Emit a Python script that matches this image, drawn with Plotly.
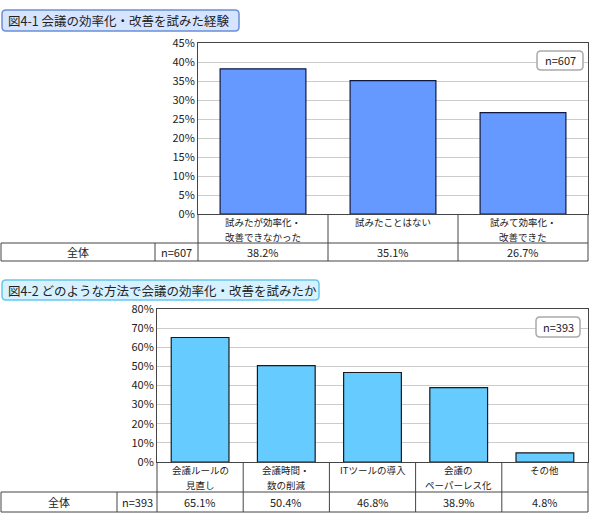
import plotly.graph_objects as go

W, H = 590, 523

# chart 4-1
cats1 = ["試みたが効率化・<br>改善できなかった", "試みたことはない", "試みて効率化・<br>改善できた"]
vals1 = [38.2, 35.1, 26.7]
n1 = "n=607"
title1 = "図4-1 会議の効率化・改善を試みた経験"

# chart 4-2
cats2 = ["会議ルールの<br>見直し", "会議時間・<br>数の削減", "ITツールの導入", "会議の<br>ペーパーレス化", "その他"]
vals2 = [65.1, 50.4, 46.8, 38.9, 4.8]
n2 = "n=393"
title2 = "図4-2 どのような方法で会議の効率化・改善を試みたか"

row_label = "全体"
FONT = "Noto Sans CJK JP"
LINE = "#444444"


def px(x):
    return x / W


def py(y):
    return 1 - y / H


def rounded_box(x0, y0, x1, y1, r, fill, line):
    rx, ry = r / W, r / H
    a, b, c, d = px(x0), py(y0), px(x1), py(y1)
    path = (f"M {a+rx},{b} L {c-rx},{b} Q {c},{b} {c},{b-ry} "
            f"L {c},{d+ry} Q {c},{d} {c-rx},{d} L {a+rx},{d} "
            f"Q {a},{d} {a},{d+ry} L {a},{b-ry} Q {a},{b} {a+rx},{b} Z")
    return dict(type="path", path=path, xref="paper", yref="paper",
                fillcolor=fill, line=dict(color=line, width=1.5), layer="above")


def label(x, y, text, xref="paper", size=11, xanchor="center", yanchor="middle"):
    return dict(x=x, y=y, xref=xref, yref="paper", text=text, showarrow=False,
                xanchor=xanchor, yanchor=yanchor, borderpad=0, font=dict(size=size))


fig = go.Figure()
fig.add_trace(go.Bar(x=cats1, y=vals1, width=0.66, xaxis="x", yaxis="y",
                     marker=dict(color="#6699FF", line=dict(color="#101840", width=1.2)),
                     hoverinfo="skip"))
fig.add_trace(go.Bar(x=cats2, y=vals2, width=0.67, xaxis="x2", yaxis="y2",
                     marker=dict(color="#66CCFF", line=dict(color="#1a1a1a", width=1.2)),
                     hoverinfo="skip"))

shapes = []
annotations = []


def add_table(cats, vals, nlabel, xref, left, cell1, right, top, mid, bottom):
    for y in (mid, bottom):
        shapes.append(dict(type="line", xref="paper", yref="paper", x0=px(1), x1=px(right),
                           y0=py(y), y1=py(y), line=dict(color=LINE, width=1)))
    for x, yt in ((1, mid), (cell1, mid), (left, top), (right, top)):
        shapes.append(dict(type="line", xref="paper", yref="paper", x0=px(x), x1=px(x),
                           y0=py(yt), y1=py(bottom), line=dict(color=LINE, width=1)))
    for i in range(len(cats) - 1):
        shapes.append(dict(type="line", xref=xref, yref="paper", x0=i + 0.5, x1=i + 0.5,
                           y0=py(top), y1=py(bottom), line=dict(color=LINE, width=1)))
    ym = py((mid + bottom) / 2)
    annotations.append(label(px((1 + cell1) / 2), ym, row_label))
    annotations.append(label(px((cell1 + left) / 2), ym, nlabel))
    for c, v in zip(cats, vals):
        # one annotation per line so the two lines keep a clear gap
        for k, part in enumerate(c.split("<br>")):
            annotations.append(label(c, py(top + 7.5 + 15 * k), part, xref=xref, size=9.5))
        annotations.append(label(c, ym, f"{v:.1f}%", xref=xref))


add_table(cats1, vals1, n1, "x", 198, 155, 588, 214, 243, 261)
add_table(cats2, vals2, n2, "x2", 157, 117, 588, 462, 492, 512)

# title boxes
shapes.append(rounded_box(2, 10, 239, 31, 4, "#D6E4FF", "#6A8FD8"))
annotations.append(label(px(7), py(20.5), title1, size=12.5, xanchor="left"))
shapes.append(rounded_box(2, 280, 319, 300, 4, "#D6F1FF", "#66C6EE"))
annotations.append(label(px(7), py(290), title2, size=12.5, xanchor="left"))

# n boxes
shapes.append(rounded_box(537, 51, 583, 70, 4, "white", "#AAAAAA"))
annotations.append(label(px(560), py(60.5), n1))
shapes.append(rounded_box(536, 317, 580, 337, 4, "white", "#AAAAAA"))
annotations.append(label(px(558), py(327), n2))

axis_common = dict(showline=True, mirror=True, linecolor=LINE, linewidth=1, fixedrange=True)

fig.update_layout(
    width=W, height=H,
    margin=dict(l=0, r=0, t=0, b=0, autoexpand=False),
    paper_bgcolor="white", plot_bgcolor="white",
    showlegend=False,
    font=dict(family=FONT, size=11, color="#222222"),
    xaxis=dict(domain=[px(198), px(588)], anchor="y", range=[-0.5, 2.5],
               showticklabels=False, ticks="", showgrid=False, **axis_common),
    yaxis=dict(domain=[py(214), py(43)], anchor="x", range=[0, 45], dtick=5,
               ticksuffix="%", showgrid=True, gridcolor="#CCCCCC", ticks="",
               tickfont=dict(size=11), **axis_common),
    xaxis2=dict(domain=[px(157), px(588)], anchor="y2", range=[-0.5, 4.5],
                showticklabels=False, ticks="", showgrid=False, **axis_common),
    yaxis2=dict(domain=[py(462), py(309)], anchor="x2", range=[0, 80], dtick=10,
                ticksuffix="%", showgrid=True, gridcolor="#CCCCCC", ticks="",
                tickfont=dict(size=11), **axis_common),
    shapes=shapes,
    annotations=annotations,
)

# the page body has a default 8px margin; drop it so the figure sits at the window corner
fig.write_html("out.html", config={"displayModeBar": False},
               post_script="document.body.style.margin='0';")
